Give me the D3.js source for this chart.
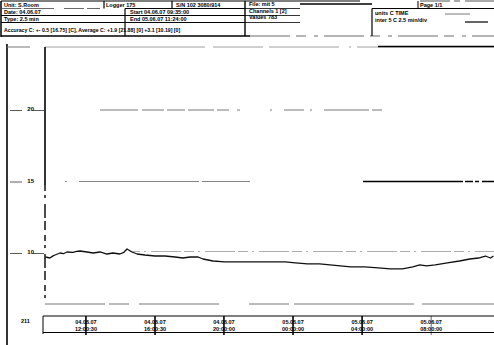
<!DOCTYPE html>
<html>
<head>
<meta charset="utf-8">
<script src="https://cdn.jsdelivr.net/npm/d3@7"></script>
<style>
  body { margin: 0; background: #fff; }
  svg { display: block; }
  text { font-family: "Liberation Sans", Arial, sans-serif; font-weight: bold; fill: #000; }
</style>
</head>
<body>
<svg id="chart" width="494" height="345"></svg>
<script>
// Logger readings: timestamp and temperature (°C)
const readTimes = [
  "2007-06-04 09:42", "2007-06-04 09:57", "2007-06-04 10:08", "2007-06-04 10:15", "2007-06-04 10:32",
  "2007-06-04 10:44", "2007-06-04 10:56", "2007-06-04 11:17", "2007-06-04 11:30", "2007-06-04 11:42",
  "2007-06-04 12:06", "2007-06-04 12:27", "2007-06-04 12:51", "2007-06-04 13:15", "2007-06-04 13:36",
  "2007-06-04 14:00", "2007-06-04 14:14", "2007-06-04 14:25", "2007-06-04 14:42", "2007-06-04 15:00",
  "2007-06-04 15:27", "2007-06-04 16:02", "2007-06-04 16:37", "2007-06-04 17:12", "2007-06-04 17:39",
  "2007-06-04 18:04", "2007-06-04 18:32", "2007-06-04 18:49", "2007-06-04 19:24", "2007-06-04 20:04",
  "2007-06-04 20:58", "2007-06-04 21:52", "2007-06-04 22:40", "2007-06-04 23:34", "2007-06-05 00:10",
  "2007-06-05 00:52", "2007-06-05 01:34", "2007-06-05 02:10", "2007-06-05 02:46", "2007-06-05 03:22",
  "2007-06-05 04:10", "2007-06-05 04:58", "2007-06-05 05:40", "2007-06-05 06:22", "2007-06-05 06:58",
  "2007-06-05 07:22", "2007-06-05 07:46", "2007-06-05 08:16", "2007-06-05 08:58", "2007-06-05 09:40",
  "2007-06-05 10:16", "2007-06-05 10:46", "2007-06-05 11:10", "2007-06-05 11:28", "2007-06-05 11:38"
];
const readValues = [
  9.72, 9.65, 9.80, 9.86, 10.00,
  9.95, 10.07, 10.05, 10.12, 10.14,
  10.07, 10.00, 10.07, 9.93, 10.00,
  9.93, 10.05, 10.28, 10.07, 9.93,
  9.86, 9.79, 9.79, 9.72, 9.65,
  9.72, 9.72, 9.58, 9.44, 9.38,
  9.38, 9.38, 9.38, 9.38, 9.31,
  9.24, 9.24, 9.17, 9.10, 9.03,
  9.03, 8.96, 8.89, 8.89, 9.03,
  9.17, 9.10, 9.17, 9.31, 9.44,
  9.58, 9.65, 9.79, 9.65, 9.79
];

const yTickValues = [10, 15, 20];
const xTickDates = ["04.06.07", "04.06.07", "04.06.07", "05.06.07", "05.06.07", "05.06.07"];
const xTickClock = ["12:00:30", "16:00:30", "20:00:00", "00:00:00", "04:00:00", "08:00:00"];
const axisCorner = "211";

// Header block text
const headCol1 = ["Unit: S.Room", "Date: 04.06.07", "Type: 2.5 min"];
const headCol2 = ["Logger 175", "Start 04.06.07 09:35:00", "End 05.06.07 11:24:00"];
const headSerial = "S/N 102 3080/914";
const headCol3 = ["File: mit 5", "Channels 1 [2]", "Values 783"];
const headCol4 = ["units   C TIME", "inter 5   C 2.5 min/div"];
const headPage = "Page 1/1";
const headNote = "Accuracy C: +- 0.5 [16.75] [C], Average C: +1.9 [21.88] [0] +3.1 [10.19] [0]";

const svg = d3.select("#chart");
svg.append("rect").attr("width", 494).attr("height", 345).attr("fill", "#fff");

const parse = d3.timeParse("%Y-%m-%d %H:%M");
const parseS = d3.timeParse("%Y-%m-%d %H:%M:%S");
const data = readTimes.map((t, i) => ({ t: parse(t), v: readValues[i] }));

const x = d3.scaleTime()
  .domain([parse("2007-06-04 09:40"), parse("2007-06-05 11:40")])
  .range([45, 494]);
const y = d3.scaleLinear().domain([10, 20]).range([253, 110]);

// ---------- header ----------
const head = svg.append("g");
const hl = (x1, y1, x2, y2, w, c, dash) => head.append("line")
  .attr("x1", x1).attr("y1", y1).attr("x2", x2).attr("y2", y2)
  .attr("stroke", c || "#000").attr("stroke-width", w || 1)
  .attr("stroke-dasharray", dash || null);

hl(1, 1, 360, 1, 1.2);
hl(420, 1, 494, 1, 1, "#555", "30,4,6,5");
hl(1, 1, 1, 37, 1.5);
hl(1, 8.5, 100, 8.5, 0.8, "#444", "20,3,30,10");
hl(125, 8.5, 245, 8.5, 1);
hl(1, 15.5, 245, 15.5, 1);
hl(1, 22.5, 245, 22.5, 1);
hl(1, 36, 250, 36, 1.6);
hl(250, 36, 494, 36, 0.8, "#444", "40,6,10,8,4,6");
hl(245, 8.5, 300, 8.5, 0.8);
hl(245, 15.5, 300, 15.5, 0.8);
hl(245, 22.5, 300, 22.5, 0.8);
hl(300, 4, 372, 4, 1.3);
hl(372, 8.5, 494, 8.5, 1);
hl(445, 14, 470, 14, 0.8, "#555");
hl(465, 22, 488, 22, 1.2);
hl(104, 1, 104, 8.5, 1.2);
hl(125, 8.5, 125, 36, 1.2);
hl(172, 1, 172, 8.5, 1.2);
hl(245, 1, 245, 36, 1.4);
hl(372, 8.5, 372, 36, 1.2);
hl(418, 1, 418, 8.5, 1);

const ht = (tx, ty, s, size) => head.append("text")
  .attr("x", tx).attr("y", ty).attr("font-size", size || 5.5).text(s);
headCol1.forEach((s, i) => ht(4, 6.5 + i * 7, s));
ht(106, 6.5, headCol2[0]);
ht(130, 13.5, headCol2[1]);
ht(130, 20.5, headCol2[2]);
ht(176, 6.5, headSerial);
headCol3.forEach((s, i) => ht(249, 6 + i * 6.5, s));
headCol4.forEach((s, i) => ht(375, 15 + i * 7, s));
ht(420, 6.5, headPage);
ht(4, 32, headNote, 5.2);

// ---------- plot frame ----------
const frame = svg.append("g");
const fl = (x1, y1, x2, y2, w, c, dash) => frame.append("line")
  .attr("x1", x1).attr("y1", y1).attr("x2", x2).attr("y2", y2)
  .attr("stroke", c || "#000").attr("stroke-width", w || 1)
  .attr("stroke-dasharray", dash || null);

fl(7, 44, 7, 345, 1.6);
fl(7, 47, 30, 47, 1, "#777");
fl(45, 47, 494, 47, 0.8, "#888", "160,8,50,6,70,10,2,6,200");
fl(378, 46.5, 494, 46.5, 1.4);
fl(45, 47, 45, 185, 1.6);
fl(45, 185, 45, 300, 1.4, "#000", "6,4,3,6,14,3,9,5");
fl(45, 304, 494, 304, 0.8, "#555", "60,4,20,10,80,30,40,5,120,8,100");

// horizontal guide lines at the labelled values
const grid = svg.append("g");
grid.append("line").attr("x1", 100).attr("x2", 494).attr("y1", y(20)).attr("y2", y(20))
  .attr("stroke", "#555").attr("stroke-width", 0.8)
  .attr("stroke-dasharray", "38,4,22,3,18,3,26,3,12,8,3,30,2,12,20,6,2,12,45,3,10,200");
grid.append("line").attr("x1", 65).attr("x2", 250).attr("y1", y(15)).attr("y2", y(15))
  .attr("stroke", "#666").attr("stroke-width", 0.8).attr("stroke-dasharray", "2,12,120,3,60");
grid.append("line").attr("x1", 363).attr("x2", 494).attr("y1", y(15)).attr("y2", y(15))
  .attr("stroke", "#000").attr("stroke-width", 1.4).attr("stroke-dasharray", "100,2,8,2,4,3,40");
grid.append("line").attr("x1", 130).attr("x2", 494).attr("y1", y(10) - 1.5).attr("y2", y(10) - 1.5)
  .attr("stroke", "#777").attr("stroke-width", 0.6).attr("stroke-dasharray", "10,4,2,5,30,3");

// y axis labels with short leader marks
const yAxis = d3.axisLeft(y).tickValues(yTickValues).tickSize(0).tickFormat(d3.format("d"));
const yg = svg.append("g").attr("transform", "translate(36,0)").call(yAxis);
yg.select(".domain").remove();
yg.selectAll("text").attr("font-size", 6).attr("x", -2).attr("dy", "0.1em");
yg.selectAll(".tick").append("line").attr("x1", -26).attr("x2", -14)
  .attr("stroke", "#333").attr("stroke-width", 0.8);
yg.selectAll(".tick").filter(d => d !== 15).append("line").attr("x1", -3).attr("x2", 8)
  .attr("stroke", "#333").attr("stroke-width", 0.8);

// ---------- temperature trace ----------
const line = d3.line().x(d => x(d.t)).y(d => y(d.v));
svg.append("path").datum(data).attr("d", line)
  .attr("fill", "none").attr("stroke", "#111").attr("stroke-width", 1.3)
  .attr("stroke-linejoin", "round");

// ---------- time axis ----------
const axisY = 316;
fl(43, axisY, 494, axisY, 1);
fl(43, 332.5, 494, 332.5, 1);
fl(43, axisY, 43, 334, 1);
svg.append("text").attr("x", 21).attr("y", 323).attr("font-size", 5.5).text(axisCorner);

const xTicks = xTickClock.map((c, i) => {
  const [d, m, yy] = xTickDates[i].split(".");
  return parseS(`20${yy}-${m}-${d} ${c}`);
});
const xAxis = d3.axisBottom(x).tickValues(xTicks).tickSize(19).tickFormat("");
const xg = svg.append("g").attr("transform", `translate(0,${axisY})`).call(xAxis);
xg.select(".domain").remove();
xg.selectAll(".tick line").attr("stroke", "#000").attr("stroke-width", (d, i) => i < 5 ? 1.6 : 0.6);
xg.selectAll(".tick").each(function (d, i) {
  const g = d3.select(this);
  g.append("text").attr("y", 7.5).attr("text-anchor", "middle").attr("font-size", 5.5).text(xTickDates[i]);
  g.append("text").attr("y", 14.5).attr("text-anchor", "middle").attr("font-size", 5.5).text(xTickClock[i]);
});
</script>
</body>
</html>
